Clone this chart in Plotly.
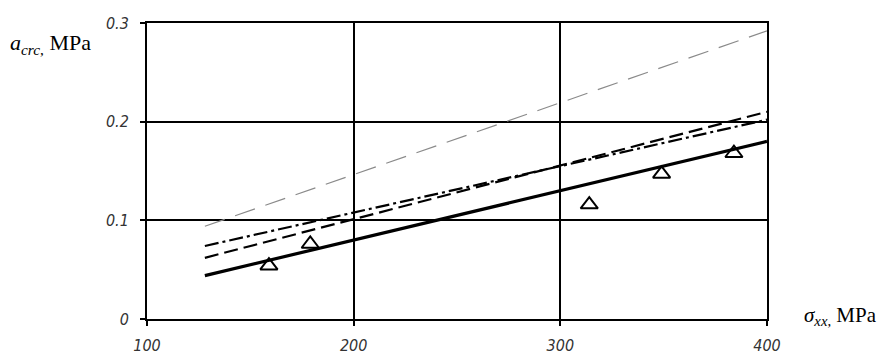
import plotly.graph_objects as go

# Data
x_line = [128, 400]
solid_y = [0.044, 0.180]
dashed_y = [0.062, 0.210]
dashdot_y = [0.074, 0.202]
thin_y = [0.094, 0.292]

tri_x = [159, 179, 314, 349, 384]
tri_y = [0.054, 0.076, 0.116, 0.147, 0.168]

x_ticks = [100, 200, 300, 400]
x_tick_text = ["100", "200", "300", "400"]
y_ticks = [0, 0.1, 0.2, 0.3]
y_tick_text = ["0", "0.1", "0.2", "0.3"]

fig = go.Figure()
fig.add_trace(go.Scatter(x=x_line, y=thin_y, mode="lines",
                         line=dict(color="#8a8a8a", width=1.2, dash="21px,11px")))
fig.add_trace(go.Scatter(x=x_line, y=dashdot_y, mode="lines",
                         line=dict(color="black", width=2.2, dash="14px,4px,3px,4px")))
fig.add_trace(go.Scatter(x=x_line, y=dashed_y, mode="lines",
                         line=dict(color="black", width=2.2, dash="14px,6px")))
fig.add_trace(go.Scatter(x=x_line, y=solid_y, mode="lines",
                         line=dict(color="black", width=3.2)))
fig.add_trace(go.Scatter(x=tri_x, y=tri_y, mode="markers",
                         marker=dict(symbol="triangle-up-open", size=15,
                                     color="black", line=dict(width=2, color="black"))))

tickfont = dict(family="Liberation Sans Narrow, DejaVu Sans Condensed, Liberation Sans",
                size=16, color="#333333", style="italic")

fig.update_layout(
    width=878, height=347,
    margin=dict(l=139, r=119, t=15, b=36, autoexpand=False),
    paper_bgcolor="white", plot_bgcolor="white",
    showlegend=False,
    xaxis=dict(range=[100, 400], tickvals=x_ticks, ticktext=x_tick_text,
               showgrid=True, gridcolor="black", gridwidth=1.5,
               showline=True, linecolor="black", linewidth=2, mirror=True,
               ticks="outside", ticklen=5, tickcolor="black", tickwidth=1.5,
               ticklabelstandoff=6, automargin=False,
               tickfont=tickfont, zeroline=False),
    yaxis=dict(range=[0, 0.3], tickvals=y_ticks, ticktext=y_tick_text,
               showgrid=True, gridcolor="black", gridwidth=1.5,
               showline=True, linecolor="black", linewidth=2, mirror=True,
               ticks="outside", ticklen=5, tickcolor="black", tickwidth=1.5,
               ticklabelstandoff=8, automargin=False,
               tickfont=tickfont, zeroline=False),
    annotations=[
        dict(text="<i>a</i><sub><i>crc</i>,</sub> MPa", xref="paper", yref="paper",
             x=-0.224, y=0.93, xanchor="left", yanchor="middle", showarrow=False,
             font=dict(family="Liberation Serif", size=22, color="black")),
        dict(text="<i>σ</i><sub><i>xx</i>,</sub> MPa", xref="paper", yref="paper",
             x=1.056, y=0.01, xanchor="left", yanchor="middle", showarrow=False,
             font=dict(family="Liberation Serif", size=21, color="black")),
    ],
)

fig.write_html("out.html")
